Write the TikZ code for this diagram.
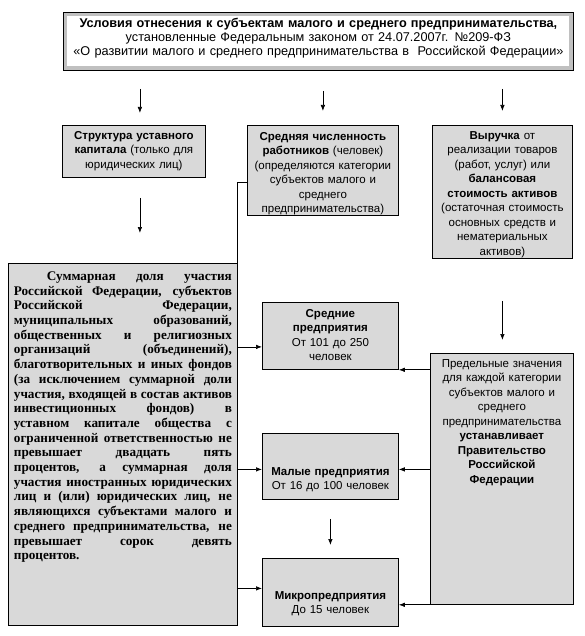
\documentclass[tikz,border=0pt]{standalone}
\usepackage{fontspec}
\setmainfont{Liberation Sans}
\newfontfamily\timesbf{Liberation Serif}
\usetikzlibrary{arrows.meta}
\definecolor{boxgray}{RGB}{217,217,217}
\definecolor{framegray}{RGB}{192,192,192}
\newcommand{\jl}[2][218pt]{{\spaceskip=0pt\xspaceskip=0pt\makebox[#1][s]{#2}}}

\begin{document}
\begin{tikzpicture}[x=1pt,y=-1pt,
    box/.style={draw,fill=boxgray,line width=0.8pt,anchor=north west,inner xsep=3pt,inner ysep=0pt,align=center,font=\fontsize{11.5}{14.5}\selectfont},
    arr/.style={-{Latex[length=6pt,width=4.5pt]},line width=0.7pt}]
  \useasboundingbox (0,0) rectangle (584,636);
  % header
  \node[box,fill=framegray,text width=504pt,text height=15pt,text depth=43pt,font=\fontsize{12.7}{14}\selectfont,
    path picture={\fill[white] ([shift={(4pt,-4pt)}]path picture bounding box.north west) rectangle ([shift={(-4pt,4pt)}]path picture bounding box.south east);}]
    (title) at (63,12) {\textbf{Условия отнесения к субъектам малого и среднего предпринимательства,}\\
      установленные Федеральным законом от 24.07.2007г. №209-ФЗ\\
      «О развитии малого и среднего предпринимательства в\ \ Российской Федерации»};
  % criteria
  \node[box,text width=137pt,text height=14pt,text depth=38pt] (cap) at (62,125)
    {\textbf{Структура уставного}\\ \textbf{капитала} (только для\\ юридических лиц)};
  \node[box,text width=145pt,text height=15pt,text depth=75pt] (staff) at (247,125)
    {\textbf{Средняя численность}\\ \textbf{работников} (человек)\\ (определяются категории\\ субъектов малого и\\ среднего\\ предпринимательства)};
  \node[box,text width=134pt,text height=14pt,text depth=119pt] (revenue) at (432,125)
    {\textbf{Выручка} от\\ реализации товаров\\ (работ, услуг) или\\ \textbf{балансовая}\\ \textbf{стоимость активов}\\ (остаточная стоимость\\ основных средств и\\ нематериальных\\ активов)};
  % share in capital
  \node[box,text width=218pt,inner xsep=5.5pt,text height=17pt,text depth=345pt,align=left,font=\timesbf\bfseries\fontsize{13.2}{14.7}\selectfont] (share) at (8,263)
    {\hspace*{33pt}\jl[185pt]{Суммарная доля участия}\\
     \jl{Российской Федерации, субъектов}\\
     \jl{Российской Федерации,}\\
     \jl{муниципальных образований,}\\
     \jl{общественных и религиозных}\\
     \jl{организаций (объединений),}\\
     \jl{благотворительных и иных фондов}\\
     \jl{(за исключением суммарной доли}\\
     \jl{участия, входящей в состав активов}\\
     \jl{инвестиционных фондов) в}\\
     \jl{уставном капитале общества с}\\
     \jl{ограниченной ответственностью не}\\
     \jl{превышает двадцать пять}\\
     \jl{процентов, а суммарная доля}\\
     \jl{участия иностранных юридических}\\
     \jl{лиц и (или) юридических лиц, не}\\
     \jl{являющихся субъектами малого и}\\
     \jl{среднего предпринимательства, не}\\
     \jl{превышает сорок девять}\\
     процентов.};
  % categories
  \node[box,text width=130pt,text height=15pt,text depth=52pt] (mid) at (262,302)
    {\textbf{Средние}\\ \textbf{предприятия}\\ От 101 до 250\\ человек};
  \node[box,text width=130pt,text height=42pt,text depth=24pt] (small) at (262,433)
    {\textbf{Малые предприятия}\\ От 16 до 100 человек};
  \node[box,text width=130pt,text height=41pt,text depth=27pt] (micro) at (262,558)
    {\textbf{Микропредприятия}\\ До 15 человек};
  \node[box,text width=137pt,text height=14pt,text depth=237pt] (limits) at (430,353)
    {Предельные значения\\ для каждой категории\\ субъектов малого и\\ среднего\\ предпринимательства\\ \textbf{устанавливает}\\ \textbf{Правительство}\\ \textbf{Российской}\\ \textbf{Федерации}};
  % arrows
  \draw[arr,shorten <=18pt,shorten >=12pt] ([xshift=6pt]title.south -| cap.north) -- ([xshift=6pt]cap.north);
  \draw[arr,shorten <=20pt,shorten >=14pt] (title.south -| staff.north) -- (staff.north);
  \draw[arr,shorten <=18pt,shorten >=14pt] (title.south -| revenue.north) -- (revenue.north);
  \draw[arr,shorten <=20pt,shorten >=30pt] ([xshift=6pt]cap.south) -- ([xshift=6pt]cap.south |- share.north);
  \draw[line width=0.8pt] ([yshift=-12pt]staff.west) -| (share.north east);
  \draw[arr] ([yshift=-11pt]mid.west -| share.east) -- ([yshift=-11pt]mid.west);
  \draw[arr] ([yshift=-3pt]small.west -| share.east) -- ([yshift=-3pt]small.west);
  \draw[arr] ([yshift=4pt]micro.west -| share.east) -- ([yshift=4pt]micro.west);
  \draw[arr,shorten <=42pt,shorten >=13pt] (revenue.south) -- (revenue.south |- limits.north);
  \draw[arr] (mid.south east -| limits.west) -- (mid.south east);
  \draw[arr] ([yshift=-3pt]small.east -| limits.west) -- ([yshift=-3pt]small.east);
  \draw[arr] (limits.south west) -- (limits.south west -| micro.east);
  \draw[arr,shorten <=19pt,shorten >=13pt] (small.south) -- (micro.north);
\end{tikzpicture}
\end{document}
